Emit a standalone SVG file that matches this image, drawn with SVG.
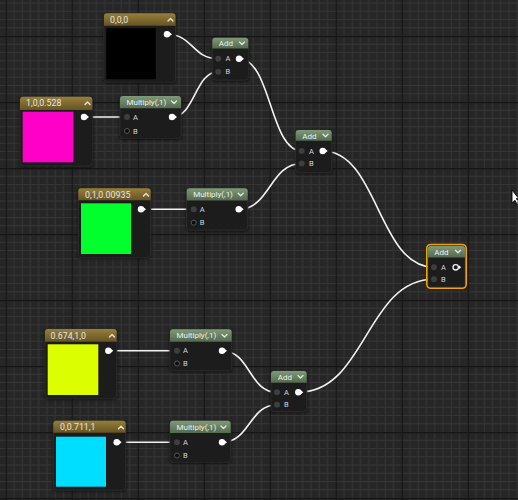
<svg xmlns="http://www.w3.org/2000/svg" width="518" height="500" viewBox="0 0 518 500">
<defs>
<pattern id="grid" patternUnits="userSpaceOnUse" x="5.7" y="36" width="66" height="66">
<rect width="66" height="66" fill="#262626"/>
<g stroke="#353535" stroke-width="1">
<path d="M8.25 0V66M16.5 0V66M24.75 0V66M33 0V66M41.25 0V66M49.5 0V66M57.75 0V66"/>
<path d="M0 8.25H66M0 16.5H66M0 24.75H66M0 33H66M0 41.25H66M0 49.5H66M0 57.75H66"/>
</g>
<path d="M0.5 0V66M0 0.5H66" stroke="#151515" stroke-width="1.3"/>
</pattern>
<linearGradient id="gold" x1="0" y1="0" x2="0" y2="1">
<stop offset="0" stop-color="#97803a"/>
<stop offset="1" stop-color="#665322"/>
</linearGradient>
<linearGradient id="green" x1="0" y1="0" x2="0" y2="1">
<stop offset="0" stop-color="#7f9a78"/>
<stop offset="1" stop-color="#536a4f"/>
</linearGradient>
<filter id="sh" x="-20%" y="-20%" width="140%" height="140%">
<feDropShadow dx="0" dy="1" stdDeviation="1.5" flood-color="#000" flood-opacity="0.7"/>
</filter>
</defs>
<style>
.body{fill:#1c1d1c;stroke:#2f2f2f;stroke-width:0.8;filter:url(#sh)}
.hg{fill:url(#gold)}
.hn{fill:url(#green)}
.t{font-family:Roboto,"Liberation Sans",sans-serif;font-size:8.8px;fill:#e6e6e6}
.tf{font-family:Roboto,"Liberation Sans",sans-serif;font-size:8px;fill:#f0f0f0}
.pl{font-family:Roboto,"Liberation Sans",sans-serif;font-size:7.5px;fill:#d8d8d8}
.chev{fill:none;stroke:#e6e6e6;stroke-width:1.3;stroke-linecap:round;stroke-linejoin:round}
.pin{fill:#3e3e3e}
.pinu{fill:#0d0d0d;stroke:#5c5c5c;stroke-width:0.9}
.po{fill:#ffffff}
.wire{fill:none;stroke:#f2f2f2;stroke-width:1.6}
</style>
<rect width="518" height="500" fill="url(#grid)"/>

<g id="connectors">
<path class="wire" d="M167 34.3C193 34.3 192 58.7 218.3 58.7"/>
<path class="wire" d="M172 117C195 117 195 71.7 218.3 71.7"/>
<path class="wire" d="M84 117H127"/>
<path class="wire" d="M239 58.7C271 58.7 270 151 301.7 151"/>
<path class="wire" d="M141 209.3H193.7"/>
<path class="wire" d="M238.7 209.3C270 209.3 270 163.5 301.7 163.5"/>
<path class="wire" d="M322.7 151C378 151 378 267.3 434 267.3"/>
<path class="wire" d="M108.3 350.7H177"/>
<path class="wire" d="M116.7 442.3H177"/>
<path class="wire" d="M222 350.7C250 350.7 249 392.3 277 392.3"/>
<path class="wire" d="M222 442.3C250 442.3 249 404.8 277 404.8"/>
<path class="wire" d="M298.3 392.3C366 392.3 366 279.3 434 279.3"/>
</g>

<g id="node-0-0-0">
<rect class="body" x="104" y="13.3" width="71.5" height="69" rx="3"/>
<path class="hg" d="M104 25.8V16.3Q104 13.3 107 13.3H172.5Q175.5 13.3 175.5 16.3V25.8Z"/>
<text class="t" x="110" y="22.6">0,0,0</text>
<path class="chev" d="M168 21L170.5 18.5L173 21"/>
<rect x="106.3" y="28.2" width="49.5" height="51" fill="#000000"/>
<circle class="po" cx="167" cy="34.3" r="3.2"/><path class="po" d="M169.5 32.3L172 34.3L169.5 36.3Z"/>
</g>

<g id="node-1-0-0.528">
<rect class="body" x="20" y="96.7" width="72.3" height="69.3" rx="3"/>
<path class="hg" d="M20 110V99.7Q20 96.7 23 96.7H89.3Q92.3 96.7 92.3 99.7V110Z"/>
<text class="t" x="26" y="106">1,0,0.528</text>
<path class="chev" d="M85 104.5L87.5 102L90 104.5"/>
<rect x="22.7" y="111.7" width="50.6" height="50.6" fill="#ff00c8"/>
<circle class="po" cx="84" cy="117" r="3.2"/><path class="po" d="M86.5 115L89 117L86.5 119Z"/>
</g>

<g id="node-0-1-0.00935">
<rect class="body" x="78.3" y="188.3" width="72.4" height="69" rx="3"/>
<path class="hg" d="M78.3 200.3V191.3Q78.3 188.3 81.3 188.3H147.7Q150.7 188.3 150.7 191.3V200.3Z"/>
<text class="t" x="85" y="197.5">0,1,0.00935</text>
<path class="chev" d="M143.5 196L146 193.5L148.5 196"/>
<rect x="81" y="203.3" width="50" height="50.7" fill="#00ff2c"/>
<circle class="po" cx="141" cy="209.3" r="3.2"/><path class="po" d="M143.5 207.3L146 209.3L143.5 211.3Z"/>
</g>

<g id="node-0.674-1-0">
<rect class="body" x="45" y="329" width="71.7" height="69.3" rx="3"/>
<path class="hg" d="M45 341.7V332Q45 329 48 329H113.7Q116.7 329 116.7 332V341.7Z"/>
<text class="t" x="50.5" y="338.5">0.674,1,0</text>
<path class="chev" d="M109.5 337L112 334.5L114.5 337"/>
<rect x="47.7" y="344.3" width="50.6" height="50.7" fill="#dcff00"/>
<circle class="po" cx="108.3" cy="350.7" r="3.2"/><path class="po" d="M110.8 348.7L113.3 350.7L110.8 352.7Z"/>
</g>

<g id="node-0-0.711-1">
<rect class="body" x="53.3" y="420.7" width="72.4" height="69.3" rx="3"/>
<path class="hg" d="M53.3 432.7V423.7Q53.3 420.7 56.3 420.7H122.7Q125.7 420.7 125.7 423.7V432.7Z"/>
<text class="t" x="60" y="430.2">0,0.711,1</text>
<path class="chev" d="M118.5 428.7L121 426.2L123.5 428.7"/>
<rect x="56" y="436.7" width="50" height="50" fill="#00deff"/>
<circle class="po" cx="116.7" cy="442.3" r="3.2"/><path class="po" d="M119.2 440.3L121.7 442.3L119.2 444.3Z"/>
</g>

<g id="multiply-1">
<rect class="body" x="120" y="96" width="61" height="42.3" rx="3"/>
<path class="hn" d="M120 108.3V99Q120 96 123 96H178Q181 96 181 99V108.3Z"/>
<text class="tf" x="126.5" y="105">Multiply(,1)</text>
<path class="chev" d="M171.5 101L174 103.5L176.5 101"/>
<circle class="pin" cx="127" cy="117" r="3"/><text class="pl" x="133" y="119.6">A</text>
<circle class="pinu" cx="127" cy="131" r="2.5"/><text class="pl" x="133" y="133.6">B</text>
<circle class="po" cx="172" cy="117" r="3.2"/><path class="po" d="M174.5 115L177 117L174.5 119Z"/>
</g>

<g id="multiply-2">
<rect class="body" x="186.7" y="188.3" width="61" height="41.7" rx="3"/>
<path class="hn" d="M186.7 200.5V191.3Q186.7 188.3 189.7 188.3H244.7Q247.7 188.3 247.7 191.3V200.5Z"/>
<text class="tf" x="193.2" y="197.2">Multiply(,1)</text>
<path class="chev" d="M238.2 193.3L240.7 195.8L243.2 193.3"/>
<circle class="pin" cx="193.7" cy="209.3" r="3"/><text class="pl" x="199.7" y="211.9">A</text>
<circle class="pinu" cx="193.7" cy="222.7" r="2.5"/><text class="pl" x="199.7" y="225.3">B</text>
<circle class="po" cx="238.7" cy="209.3" r="3.2"/><path class="po" d="M241.2 207.3L243.7 209.3L241.2 211.3Z"/>
</g>

<g id="multiply-3">
<rect class="body" x="170" y="329.3" width="61.7" height="41.4" rx="3"/>
<path class="hn" d="M170 341.7V332.3Q170 329.3 173 329.3H228.7Q231.7 329.3 231.7 332.3V341.7Z"/>
<text class="tf" x="176.5" y="338.4">Multiply(,1)</text>
<path class="chev" d="M222 334.5L224.5 337L227 334.5"/>
<circle class="pin" cx="177" cy="350.7" r="3"/><text class="pl" x="183" y="353.3">A</text>
<circle class="pinu" cx="177" cy="363.5" r="2.5"/><text class="pl" x="183" y="366.1">B</text>
<circle class="po" cx="222" cy="350.7" r="3.2"/><path class="po" d="M224.5 348.7L227 350.7L224.5 352.7Z"/>
</g>

<g id="multiply-4">
<rect class="body" x="170" y="420.7" width="60.7" height="41.6" rx="3"/>
<path class="hn" d="M170 433V423.7Q170 420.7 173 420.7H227.7Q230.7 420.7 230.7 423.7V433Z"/>
<text class="tf" x="176.5" y="429.8">Multiply(,1)</text>
<path class="chev" d="M221 426L223.5 428.5L226 426"/>
<circle class="pin" cx="177" cy="442.3" r="3"/><text class="pl" x="183" y="444.9">A</text>
<circle class="pinu" cx="177" cy="455.5" r="2.5"/><text class="pl" x="183" y="458.1">B</text>
<circle class="po" cx="222" cy="442.3" r="3.2"/><path class="po" d="M224.5 440.3L227 442.3L224.5 444.3Z"/>
</g>

<g id="add-1">
<rect class="body" x="212.3" y="37.7" width="36" height="42.3" rx="3"/>
<path class="hn" d="M212.3 48.5V40.7Q212.3 37.7 215.3 37.7H245.3Q248.3 37.7 248.3 40.7V48.5Z"/>
<text class="tf" x="218.7" y="46.2">Add</text>
<path class="chev" d="M239.5 42L242 44.5L244.5 42"/>
<circle class="pin" cx="218.3" cy="58.7" r="3"/><text class="pl" x="225.5" y="61.3">A</text>
<circle class="pin" cx="218.3" cy="71.7" r="3"/><text class="pl" x="225.5" y="74.3">B</text>
<circle class="po" cx="239" cy="58.7" r="3.2"/><path class="po" d="M241.5 56.7L244 58.7L241.5 60.7Z"/>
</g>

<g id="add-2">
<rect class="body" x="295.7" y="130" width="36" height="42.7" rx="3"/>
<path class="hn" d="M295.7 140.8V133Q295.7 130 298.7 130H328.7Q331.7 130 331.7 133V140.8Z"/>
<text class="tf" x="302.2" y="138.5">Add</text>
<path class="chev" d="M323 134.3L325.5 136.8L328 134.3"/>
<circle class="pin" cx="301.7" cy="151" r="3"/><text class="pl" x="309" y="153.6">A</text>
<circle class="pin" cx="301.7" cy="163.5" r="3"/><text class="pl" x="309" y="166.1">B</text>
<circle class="po" cx="322.7" cy="151" r="3.2"/><path class="po" d="M325.2 149L327.7 151L325.2 153Z"/>
</g>

<g id="add-3">
<rect class="body" x="271" y="371" width="35.7" height="40.7" rx="3"/>
<path class="hn" d="M271 382.7V374Q271 371 274 371H303.7Q306.7 371 306.7 374V382.7Z"/>
<text class="tf" x="277.7" y="379.8">Add</text>
<path class="chev" d="M298 375.5L300.5 378L303 375.5"/>
<circle class="pin" cx="277" cy="392.3" r="3"/><text class="pl" x="284" y="394.9">A</text>
<circle class="pin" cx="277" cy="404.8" r="3"/><text class="pl" x="284" y="407.4">B</text>
<circle class="po" cx="298.3" cy="392.3" r="3.2"/><path class="po" d="M300.8 390.3L303.3 392.3L300.8 394.3Z"/>
</g>

<g id="add-final">
<rect class="body" x="428" y="246" width="37" height="41" rx="2.5"/>
<path class="hn" d="M428 257.5V248.5Q428 246 430.5 246H462.5Q465 246 465 248.5V257.5Z"/>
<rect x="426.8" y="244.5" width="39.4" height="43.8" rx="4" fill="none" stroke="#f5a300" stroke-width="1.6"/>
<text class="tf" x="434.2" y="255">Add</text>
<path class="chev" d="M455.5 250.3L458 252.8L460.5 250.3"/>
<circle class="pin" cx="434" cy="267.3" r="3"/><text class="pl" x="441" y="269.9">A</text>
<circle class="pin" cx="434" cy="279.3" r="3"/><text class="pl" x="441" y="281.9">B</text>
<circle cx="455.7" cy="267.3" r="2.7" fill="none" stroke="#f2f2f2" stroke-width="1.3"/><path class="po" d="M458.8 265.3L461.2 267.3L458.8 269.3Z"/>
</g>

<path d="M512 190V203L515 200.3L517.3 205L518 204.6V199.5L516 198.8H519Z" fill="#ffffff" stroke="#000000" stroke-width="0.9"/>
</svg>
